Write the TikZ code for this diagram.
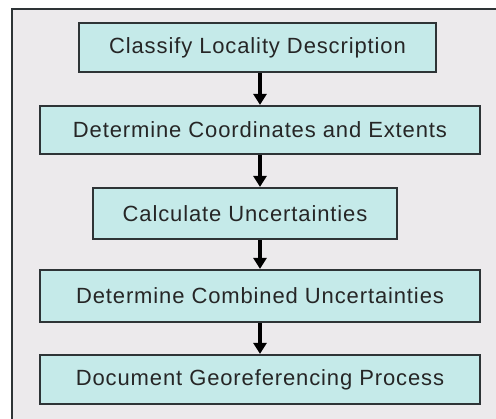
\documentclass[tikz,border=0pt]{standalone}
\usepackage{fontspec}
\setmainfont{Liberation Sans}[LetterSpace=4]
\usetikzlibrary{arrows.meta}
\definecolor{panelgray}{HTML}{ECEAEC}
\definecolor{stepcyan}{HTML}{C5EAE9}
\definecolor{edgegray}{HTML}{2E3436}
\begin{document}
\begin{tikzpicture}[x=1pt,y=-1pt,
    stepbox/.style={draw=edgegray, line width=2.2pt, fill=stepcyan, inner sep=0pt,
        font=\fontsize{22}{24}\selectfont, text=black!85},
    flow/.style={line width=3.6pt, -{Triangle[length=11pt,width=13pt]}}]
    \useasboundingbox (0,0) rectangle (496,419);
    \fill[white] (0,0) rectangle (496,419);
    \fill[panelgray] (12,9) rectangle (496,419);
    \draw[edgegray, line width=1.8pt] (12,419) -- (12,9) -- (496,9);
    \node[stepbox, minimum width=357pt, minimum height=49pt] (b1) at (257.5,47.5) {Classify Locality Description};
    \node[stepbox, minimum width=440pt, minimum height=48pt] (b2) at (260,130) {Determine Coordinates and Extents};
    \node[stepbox, minimum width=304pt, minimum height=51pt] (b3) at (245,213.5) {Calculate Uncertainties};
    \node[stepbox, minimum width=440pt, minimum height=52pt] (b4) at (260,296) {Determine Combined Uncertainties};
    \node[stepbox, minimum width=440pt, minimum height=49pt] (b5) at (260,379.5) {Document Georeferencing Process};
    \draw[flow] (b1.south -| b2) -- (b2.north);
    \draw[flow] (b2.south) -- (b3.north -| b2);
    \draw[flow] (b3.south -| b4) -- (b4.north);
    \draw[flow] (b4.south) -- (b5.north);
\end{tikzpicture}
\end{document}
